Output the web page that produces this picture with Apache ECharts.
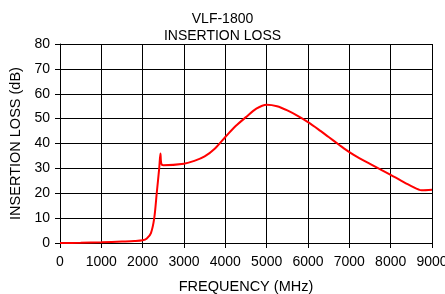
<!DOCTYPE html>
<html>
<head>
<meta charset="utf-8">
<script src="https://cdn.jsdelivr.net/npm/echarts@6/dist/echarts.min.js"></script>
<style>
  html, body { margin: 0; padding: 0; background: #fff; }
  #chart { width: 445px; height: 294px; }
</style>
</head>
<body>
<div id="chart"></div>
<script>
// frequency (MHz) and insertion loss (dB)
var freq = [0, 500, 1000, 1500, 1800, 2000, 2100, 2200, 2280, 2340, 2400, 2430, 2450, 2500, 3000, 3250, 3500, 3750, 4000, 4250, 4500, 4750, 5000, 5250, 5500, 5750, 6000, 6250, 6500, 6750, 7000, 7250, 7500, 7750, 8000, 8250, 8500, 8750, 9000];
var loss = [0, 0.1, 0.3, 0.6, 0.8, 1.1, 1.8, 4, 10, 20, 30, 36, 32, 31.3, 31.9, 33, 34.8, 38, 42.6, 47, 50.6, 54, 55.6, 55, 53.3, 51.1, 48.6, 45.7, 42.6, 39.5, 36.5, 34, 31.8, 29.6, 27.4, 25.1, 22.9, 21.2, 21.4];

var font = 'Liberation Sans, Arial, sans-serif';
var chart = echarts.init(document.getElementById('chart'));

var data = [];
for (var i = 0; i < freq.length; i++) {
  data.push([freq[i], loss[i]]);
}

var option = {
  animation: false,
  title: {
    text: 'VLF-1800\nINSERTION LOSS',
    left: 'center',
    top: 6,
    textStyle: { fontFamily: font, fontSize: 14, fontWeight: 'normal', color: '#000', lineHeight: 17 }
  },
  grid: { left: 60, right: 13, top: 44, bottom: 51, outerBoundsMode: 'none' },
  xAxis: {
    type: 'value',
    min: 0, max: 9000, interval: 1000,
    name: 'FREQUENCY (MHz)',
    nameLocation: 'middle',
    nameGap: 36,
    nameTextStyle: { fontFamily: font, fontSize: 14.5, color: '#000' },
    axisLine: { lineStyle: { color: '#000', width: 1 } },
    axisTick: { show: true, length: 5, lineStyle: { color: '#000' } },
    axisLabel: {
      fontFamily: font, fontSize: 14, color: '#000', margin: 12,
      formatter: function (v) { return String(v); }
    },
    splitLine: { lineStyle: { color: '#000', width: 1 } }
  },
  yAxis: {
    type: 'value',
    min: 0, max: 80, interval: 10,
    name: 'INSERTION LOSS (dB)',
    nameLocation: 'middle',
    nameGap: 37,
    nameTextStyle: { fontFamily: font, fontSize: 14.5, color: '#000' },
    axisLine: { show: true, lineStyle: { color: '#000', width: 1 } },
    axisTick: { show: true, length: 5, lineStyle: { color: '#000' } },
    axisLabel: { fontFamily: font, fontSize: 14, color: '#000', margin: 10 },
    splitLine: { lineStyle: { color: '#000', width: 1 } }
  },
  series: [
    {
      type: 'line',
      data: data,
      showSymbol: false,
      smooth: 0.3,
      lineStyle: { color: '#ff0000', width: 2 }
    }
  ]
};
chart.setOption(option);
</script>
</body>
</html>
